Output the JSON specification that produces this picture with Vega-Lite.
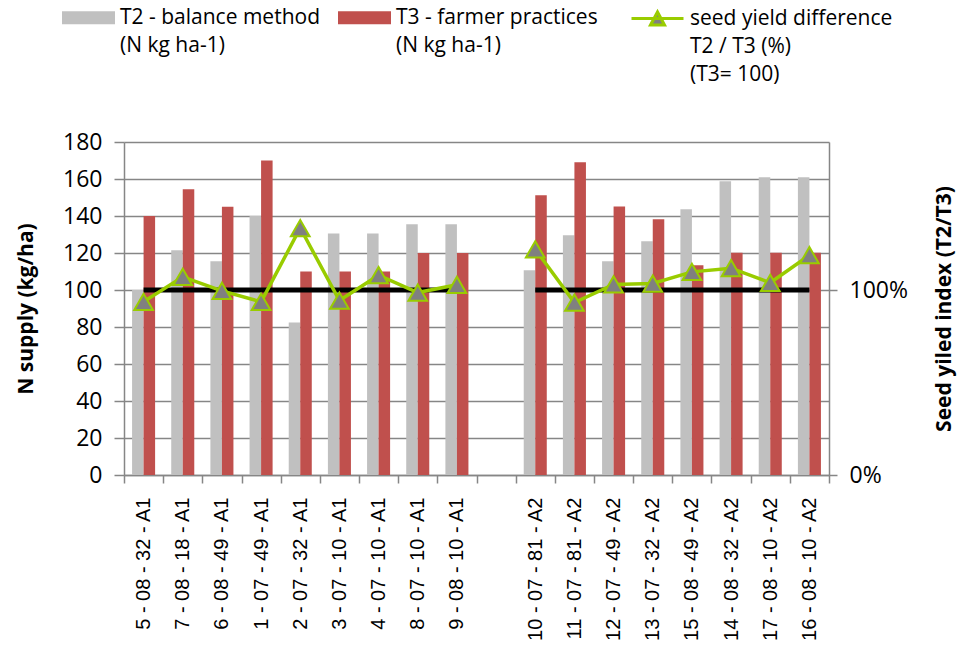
{
  "$schema": "https://vega.github.io/schema/vega-lite/v6.json",
  "width": 705,
  "height": 333,
  "autosize": {"type": "none"},
  "padding": {"left": 124, "top": 142, "right": 134, "bottom": 182},
  "background": "white",
  "config": {
    "view": {"stroke": null},
    "font": "Open Sans",
    "axis": {"labelColor": "black", "titleColor": "black", "domainColor": "#868686", "tickColor": "#868686", "gridColor": "#868686", "domainWidth": 1.5, "tickWidth": 1.5, "gridWidth": 1.3}
  },
  "data": {
    "values": [
      {"plot": "5 - 08 - 32 - A1", "group": "A1", "t2": 100, "t3": 140, "yield": 93.6},
      {"plot": "7 - 08 - 18 - A1", "group": "A1", "t2": 121.5, "t3": 154.5, "yield": 107.1},
      {"plot": "6 - 08 - 49 - A1", "group": "A1", "t2": 115.5, "t3": 145, "yield": 99.5},
      {"plot": "1 - 07 - 49 - A1", "group": "A1", "t2": 140, "t3": 170, "yield": 93.6},
      {"plot": "2 - 07 - 32 - A1", "group": "A1", "t2": 82.5, "t3": 110, "yield": 133.5},
      {"plot": "3 - 07 - 10 - A1", "group": "A1", "t2": 130.5, "t3": 110, "yield": 94.3},
      {"plot": "4 - 07 - 10 - A1", "group": "A1", "t2": 130.5, "t3": 110, "yield": 108},
      {"plot": "8 - 07 - 10 - A1", "group": "A1", "t2": 135.5, "t3": 120, "yield": 98.6},
      {"plot": "9 - 08 - 10 - A1", "group": "A1", "t2": 135.5, "t3": 120, "yield": 102.8},
      {"plot": "10 - 07 - 81 - A2", "group": "A2", "t2": 110.7, "t3": 151.2, "yield": 122},
      {"plot": "11 - 07 - 81 - A2", "group": "A2", "t2": 129.6, "t3": 169, "yield": 93.2},
      {"plot": "12 - 07 - 49 - A2", "group": "A2", "t2": 115.6, "t3": 145.2, "yield": 103},
      {"plot": "13 - 07 - 32 - A2", "group": "A2", "t2": 126.4, "t3": 138.2, "yield": 103.5},
      {"plot": "15 - 08 - 49 - A2", "group": "A2", "t2": 143.6, "t3": 113.4, "yield": 109.8},
      {"plot": "14 - 08 - 32 - A2", "group": "A2", "t2": 158.8, "t3": 120.2, "yield": 111.8},
      {"plot": "17 - 08 - 10 - A2", "group": "A2", "t2": 160.9, "t3": 120.2, "yield": 103.9},
      {"plot": "16 - 08 - 10 - A2", "group": "A2", "t2": 160.9, "t3": 120.2, "yield": 118.8}
    ]
  },
  "encoding": {
    "x": {
      "field": "plot",
      "type": "nominal",
      "sort": null,
      "scale": {
        "domain": ["5 - 08 - 32 - A1", "7 - 08 - 18 - A1", "6 - 08 - 49 - A1", "1 - 07 - 49 - A1", "2 - 07 - 32 - A1", "3 - 07 - 10 - A1", "4 - 07 - 10 - A1", "8 - 07 - 10 - A1", "9 - 08 - 10 - A1", " ", "10 - 07 - 81 - A2", "11 - 07 - 81 - A2", "12 - 07 - 49 - A2", "13 - 07 - 32 - A2", "15 - 08 - 49 - A2", "14 - 08 - 32 - A2", "17 - 08 - 10 - A2", "16 - 08 - 10 - A2"],
        "paddingInner": 0,
        "paddingOuter": 0
      },
      "axis": {"title": null, "labelAngle": -90, "labelFont": "Liberation Sans", "labelFontSize": 20, "labelPadding": 14, "tickSize": 8, "tickBand": "extent", "grid": false}
    }
  },
  "layer": [
    {
      "transform": [{"fold": ["t2", "t3"], "as": ["series", "value"]}],
      "mark": {"type": "bar"},
      "encoding": {
        "xOffset": {"field": "series", "type": "nominal", "scale": {"paddingOuter": 0.7, "paddingInner": 0}},
        "y": {
          "field": "value",
          "type": "quantitative",
          "scale": {"domain": [0, 180]},
          "axis": {"title": "N supply (kg/ha)", "titleFontSize": 21, "titleFontWeight": "bold", "titlePadding": 26, "labelFontSize": 23, "values": [0, 20, 40, 60, 80, 100, 120, 140, 160, 180], "tickSize": 10, "labelPadding": 12, "grid": true}
        },
        "fill": {
          "field": "series",
          "type": "nominal",
          "scale": {"domain": ["t2", "t3"], "range": ["#C0C0C0", "#C0504D"]},
          "legend": {
            "orient": "none",
            "legendX": -62,
            "legendY": -151,
            "direction": "horizontal",
            "title": null,
            "symbolType": "M-1,-0.245H1V0.245H-1Z",
            "symbolSize": 2809,
            "symbolStrokeWidth": 0,
            "labelFontSize": 21,
            "labelFont": "Open Sans",
            "labelColor": "black",
            "labelOffset": 5,
            "columnPadding": 18,
            "labelLimit": 400,
            "labelExpr": "datum.label == 't2' ? ['T2 - balance method', '(N kg ha-1)'] : ['T3 - farmer practices', '(N kg ha-1)']",
            "encode": {"labels": {"update": {"lineHeight": {"value": 28}}}}
          }
        }
      }
    },
    {
      "mark": {"type": "line", "color": "black", "strokeWidth": 5},
      "encoding": {
        "y": {"datum": 100, "type": "quantitative", "scale": {"domain": [0, 180]}, "axis": null},
        "detail": {"field": "group"}
      }
    },
    {
      "mark": {"type": "line", "strokeWidth": 3.5, "point": {"shape": "triangle-up", "filled": true, "fill": "#808080", "strokeWidth": 2, "size": 350, "opacity": 1}},
      "encoding": {
        "y": {
          "field": "yield",
          "type": "quantitative",
          "scale": {"domain": [0, 180]},
          "axis": {"orient": "right", "values": [0, 100], "labelExpr": "datum.value + '%'", "labelFontSize": 23, "tickSize": 8, "labelPadding": 12, "grid": false, "title": "Seed yiled index (T2/T3)", "titleFontSize": 21, "titleFontWeight": "bold", "titleAngle": 270, "titleBaseline": "top", "titlePadding": 26}
        },
        "detail": {"field": "group"},
        "stroke": {
          "datum": "seed yield difference",
          "type": "nominal",
          "scale": {"range": ["#99CC00"]},
          "legend": {
            "orient": "none",
            "legendX": 506,
            "legendY": -151,
            "title": null,
            "symbolType": "M-1,0H1M-0.27,0.25L0,-0.25L0.27,0.25Z",
            "symbolSize": 2704,
            "symbolStrokeWidth": 3,
            "symbolFillColor": "#808080",
            "labelFontSize": 21,
            "labelFont": "Open Sans",
            "labelColor": "black",
            "labelOffset": 5,
            "labelLimit": 400,
            "labelExpr": "['seed yield difference', 'T2 / T3 (%)', '(T3= 100)']",
            "encode": {"symbols": {"update": {"fill": {"value": "#808080"}}}, "labels": {"update": {"lineHeight": {"value": 28}}}}
          }
        }
      }
    }
  ],
  "resolve": {"scale": {"y": "independent"}}
}
